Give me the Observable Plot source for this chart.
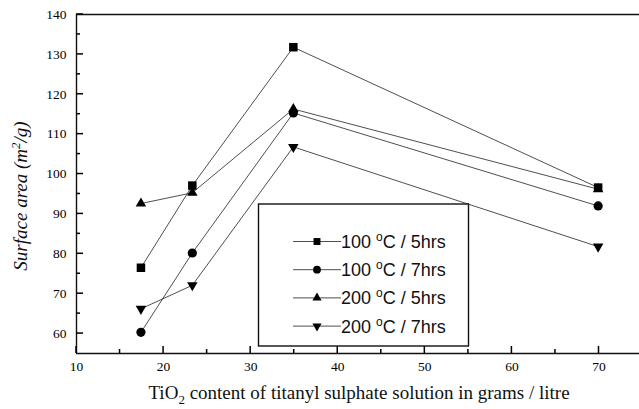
<!DOCTYPE html>
<html><head><meta charset="utf-8">
<script src="https://cdn.jsdelivr.net/npm/d3@7"></script>
<script src="https://cdn.jsdelivr.net/npm/@observablehq/plot@0.6"></script>
<style>
body{margin:0;background:#fff;}
#chart svg{display:block;}
</style>
</head><body><div id="chart"></div>
<script>
// ---- data ----
const tio2 = [17.4, 23.3, 34.9, 69.9];              // g/L
const s100_5 = [76.5, 97.1, 131.8, 96.6];
const s100_7 = [60.3, 80.2, 115.3, 92.0];
const s200_5 = [92.6, 95.3, 116.3, 96.2];
const s200_7 = [66.2, 72.1, 106.8, 81.8];
const seriesTemp = ["100", "100", "200", "200"];
const seriesTime = ["5hrs", "7hrs", "5hrs", "7hrs"];
const seriesSymbol = ["square", "circle", "triangle", "triangle"];
const seriesRotate = [0, 0, 0, 180];
const xTicks = [10, 20, 30, 40, 50, 60, 70];
const yTicks = [60, 70, 80, 90, 100, 110, 120, 130, 140];

const allSeries = [s100_5, s100_7, s200_5, s200_7];
const rows = [];
allSeries.forEach((s, i) => s.forEach((v, j) => rows.push({x: tio2[j], y: v, k: i})));

const W = 639, H = 409, ML = 76, MT = 14, MB = 56, MR = 0;
const xDom = [10, 74.65], yDom = [55, 140];
const xMinor = d3.range(15, 75, 10);
const yMinor = d3.range(65, 140, 10);
const SERIF = "'Liberation Serif', 'Times New Roman', serif";

const marks = [];
marks.push(Plot.ruleY([yDom[1]], {stroke: "#111", strokeWidth: 1.6}));
marks.push(Plot.ruleY([yDom[0]], {stroke: "#111", strokeWidth: 1.6}));
marks.push(Plot.ruleX([xDom[0]], {stroke: "#111", strokeWidth: 1.4}));
for (let i = 0; i < 4; i++) {
  const d = rows.filter(r => r.k === i);
  marks.push(Plot.line(d, {x: "x", y: "y", stroke: "#222", strokeWidth: 0.8}));
}
for (let i = 0; i < 4; i++) {
  const d = rows.filter(r => r.k === i);
  marks.push(Plot.dot(d, {x: "x", y: "y", symbol: seriesSymbol[i], rotate: seriesRotate[i],
    r: seriesSymbol[i] === "square" ? 4.8 : seriesSymbol[i] === "circle" ? 4.6 : 3.9,
    fill: "#000", stroke: "none"}));
}
marks.push(Plot.axisX(xTicks, {tickSize: 0, tickPadding: 8, label: null}));
marks.push(Plot.axisY(yTicks, {tickSize: 0, tickPadding: 10, label: null}));

const svg = Plot.plot({
  width: W, height: H,
  marginLeft: ML, marginTop: MT, marginBottom: MB, marginRight: MR,
  x: {domain: xDom},
  y: {domain: yDom},
  style: {background: "#fff", overflow: "visible"},
  marks
});
document.getElementById("chart").appendChild(svg);

const s = d3.select(svg);
s.selectAll("text").style("font-family", SERIF).style("font-size", "13.5px").style("fill", "#000");

const sx = svg.scale("x"), sy = svg.scale("y");
const tg = s.append("g").attr("stroke", "#000").attr("stroke-width", 1.5);
const yb = sy.apply(yDom[0]), xl = sx.apply(xDom[0]);
xTicks.forEach(v => tg.append("line").attr("x1", sx.apply(v)).attr("x2", sx.apply(v)).attr("y1", yb).attr("y2", yb - 7));
xMinor.forEach(v => tg.append("line").attr("x1", sx.apply(v)).attr("x2", sx.apply(v)).attr("y1", yb).attr("y2", yb - 4));
yTicks.forEach(v => tg.append("line").attr("y1", sy.apply(v)).attr("y2", sy.apply(v)).attr("x1", xl).attr("x2", xl + 7));
yMinor.forEach(v => tg.append("line").attr("y1", sy.apply(v)).attr("y2", sy.apply(v)).attr("x1", xl).attr("x2", xl + 4));

const xt = s.append("text").attr("x", 359).attr("y", 399)
  .style("text-anchor", "middle").style("font-family", SERIF).style("font-size", "19px").style("fill", "#111");
xt.append("tspan").text("TiO");
xt.append("tspan").style("font-size", "13px").attr("dy", 5).text("2");
xt.append("tspan").attr("dy", -5).text(" content of titanyl sulphate solution in grams / litre");
const yt = s.append("text").attr("transform", "translate(27,196) rotate(-90)")
  .style("text-anchor", "middle").style("font-family", SERIF).style("font-style", "italic")
  .style("font-size", "19px").style("fill", "#111");
yt.append("tspan").text("Surface area (m");
yt.append("tspan").style("font-size", "13px").attr("dy", -7).text("2");
yt.append("tspan").attr("dy", 7).text("/g)");

const lg = s.append("g");
lg.append("rect").attr("x", 258.5).attr("y", 204).attr("width", 210).attr("height", 142)
  .attr("fill", "#fff").attr("stroke", "#111").attr("stroke-width", 1.4);
const sym = {square: d3.symbolSquare, circle: d3.symbolCircle, triangle: d3.symbolTriangle};
seriesTemp.forEach((t, i) => {
  const cy = 241.5 + i * 28.2;
  lg.append("line").attr("x1", 293).attr("x2", 341).attr("y1", cy).attr("y2", cy).attr("stroke", "#222").attr("stroke-width", 0.8);
  const rr = seriesSymbol[i] === "triangle" ? 3.4 : 3.9;
  lg.append("path").attr("d", d3.symbol(sym[seriesSymbol[i]], Math.PI * rr * rr)())
    .attr("transform", `translate(317,${cy}) rotate(${seriesRotate[i]})`).attr("fill", "#000");
  const tx = lg.append("text").attr("x", 341).attr("y", cy + 6.5)
    .style("text-anchor", "start").style("font-family", "'Liberation Sans', Arial, sans-serif").style("font-size", "18px").style("fill", "#111");
  tx.append("tspan").text(t + " ");
  tx.append("tspan").style("font-size", "12px").attr("dy", -7).text("o");
  tx.append("tspan").attr("dy", 7).text("C / " + seriesTime[i]);
});
</script></body></html>
